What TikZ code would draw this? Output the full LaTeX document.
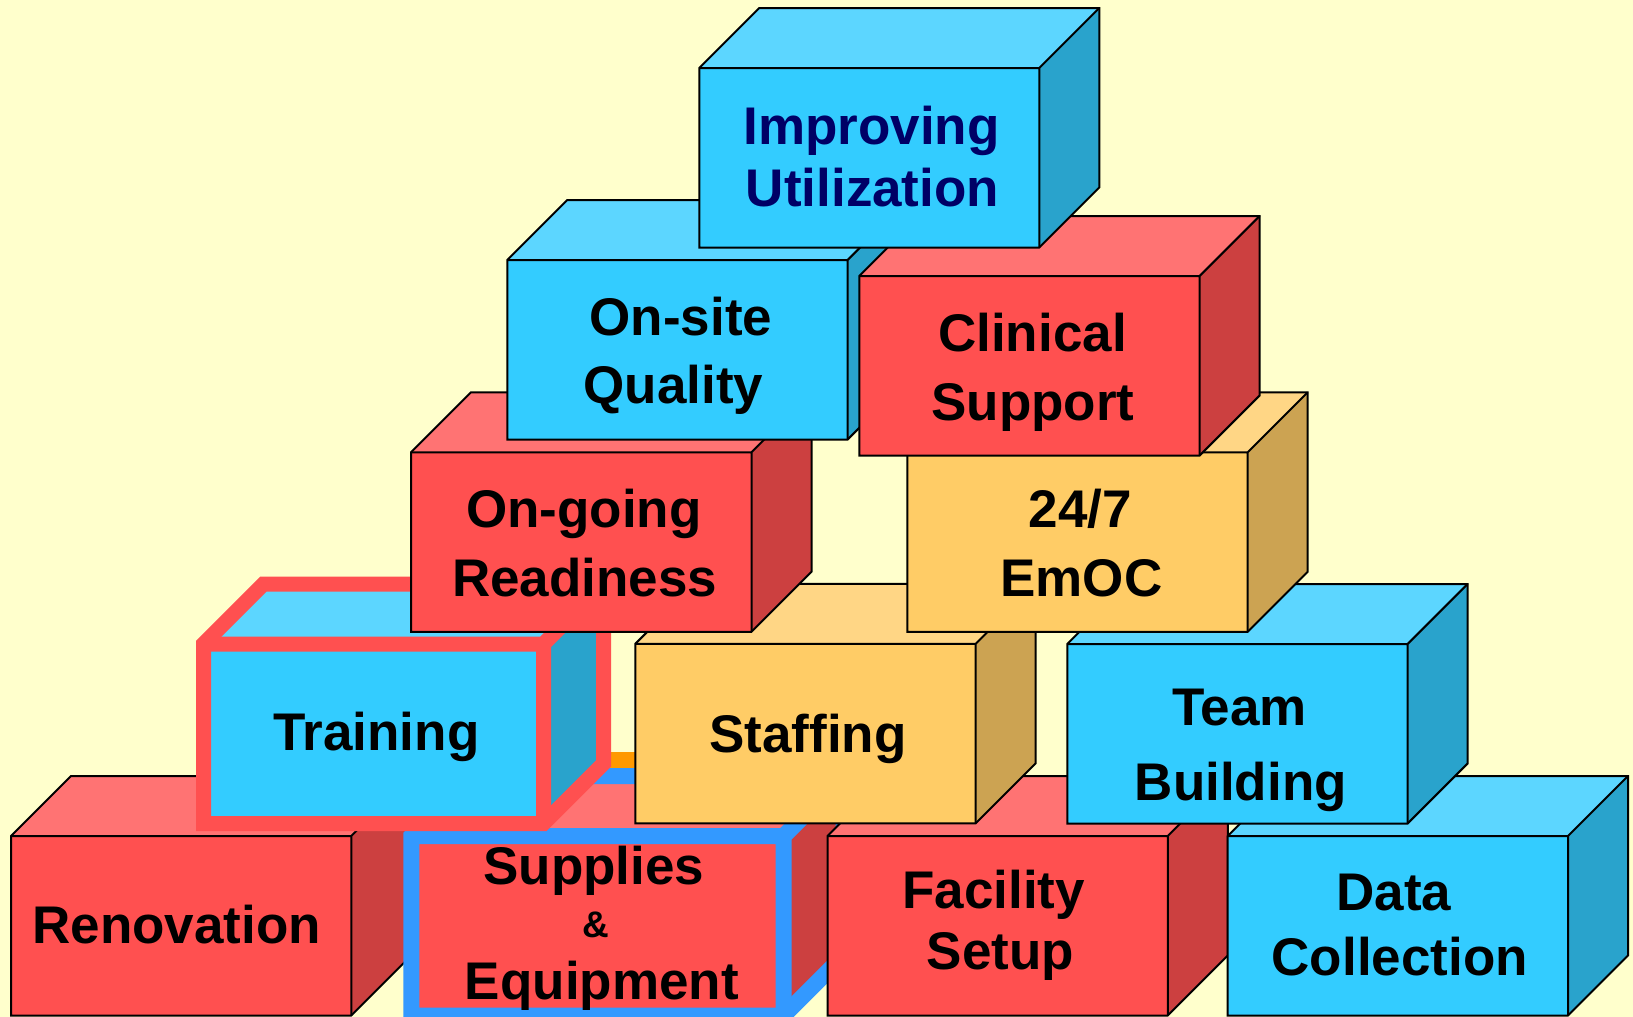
\documentclass[tikz,border=0pt]{standalone}
\usepackage{fontspec}
\setmainfont{Liberation Sans}
\definecolor{bg}{HTML}{FFFFCC}
\definecolor{bluefront}{HTML}{33CCFF}
\definecolor{bluetop}{HTML}{5CD6FF}
\definecolor{blueside}{HTML}{29A3CC}
\definecolor{redfront}{HTML}{FF5050}
\definecolor{redtop}{HTML}{FF7373}
\definecolor{redside}{HTML}{CC4040}
\definecolor{orangefront}{HTML}{FFCC66}
\definecolor{orangetop}{HTML}{FFD685}
\definecolor{orangeside}{HTML}{CCA352}
\definecolor{navy}{HTML}{000066}
\definecolor{trainred}{HTML}{FF5050}
\definecolor{suppblue}{HTML}{3399FF}
\definecolor{stripor}{HTML}{FF9900}
\newcommand{\boxcube}[5]{%
  \fill[#4top] (#1,#2) -- (#1+60,#2-60) -- (#1+#3+60,#2-60) -- (#1+#3,#2) -- cycle;
  \fill[#4side] (#1+#3,#2) -- (#1+#3+60,#2-60) -- (#1+#3+60,#2+119.5) -- (#1+#3,#2+179.5) -- cycle;
  \fill[#4front] (#1,#2) rectangle (#1+#3,#2+179.5);
  \draw[#5] (#1,#2+179.5) -- (#1,#2) -- (#1+60,#2-60) -- (#1+#3+60,#2-60) -- (#1+#3+60,#2+119.5) -- (#1+#3,#2+179.5) -- cycle;
  \draw[#5] (#1,#2) -- (#1+#3,#2) -- (#1+#3,#2+179.5) (#1+#3,#2) -- (#1+#3+60,#2-60);
}
\begin{document}
\begin{tikzpicture}[x=1pt,y=-1pt,
  lbl/.style={inner sep=0pt, anchor=base, text=black, font=\bfseries\fontsize{53}{60}\selectfont},
  thinedge/.style={draw=black, line width=2pt, line join=miter},
  trainedge/.style={draw=trainred, line width=15pt, line join=miter},
  suppedge/.style={draw=suppblue, line width=16pt, line join=miter}]
\fill[bg] (0,0) rectangle (1633,1017);
\useasboundingbox (0,0) rectangle (1633,1017);
% orange strip seen behind
\fill[stripor] (600,752.3) rectangle (640,776);
% row 1
\boxcube{11}{836}{340.3}{red}{thinedge}
\boxcube{411.3}{836}{372.4}{red}{suppedge}
\boxcube{827.5}{836}{340.3}{red}{thinedge}
\boxcube{1227.7}{836}{340.3}{blue}{thinedge}
% row 2
\boxcube{203.5}{644}{340}{blue}{trainedge}
\boxcube{635.3}{643.8}{340.3}{orange}{thinedge}
\boxcube{1067.3}{644}{340.3}{blue}{thinedge}
% row 3
\boxcube{411}{452.3}{340.5}{red}{thinedge}
\boxcube{907.3}{452.3}{340.3}{orange}{thinedge}
% row 4
\boxcube{507.3}{260}{340.3}{blue}{thinedge}
\boxcube{859.3}{276}{340.3}{red}{thinedge}
% row 5
\boxcube{699.3}{68}{340}{blue}{thinedge}
% labels
\node[lbl, text=navy] (imp1) at (871.5,144) {Improving};
\node[lbl, text=navy] (imp2) at (872.5,206.7) {Utilization};
\node[lbl] (ons1) at (681,335.7) {On-site};
\node[lbl] (ons2) at (673.3,403.3) {Quality};
\node[lbl] (cli1) at (1032.5,351.7) {Clinical};
\node[lbl] (cli2) at (1033,420.7) {Support};
\node[lbl] (rea1) at (583.8,527.3) {On-going};
\node[lbl] (rea2) at (584.7,596.7) {Readiness};
\node[lbl] (emo1) at (1080.3,527.3) {24/7};
\node[lbl] (emo2) at (1081.3,596.7) {EmOC};
\node[lbl] (tra) at (376.3,750) {Training};
\node[lbl] (sta) at (808,752) {Staffing};
\node[lbl] (tea1) at (1239.5,725.7) {Team};
\node[lbl] (tea2) at (1240.8,800.7) {Building};
\node[lbl] (ren) at (176.7,943.3) {Renovation};
\node[lbl] (sup1) at (593.8,884) {Supplies};
\node[lbl, font=\bfseries\fontsize{37}{40}\selectfont] (sup2) at (596,937) {\&};
\node[lbl] (sup3) at (601.8,999.3) {Equipment};
\node[lbl] (fac1) at (993.7,908.3) {Facility};
\node[lbl] (fac2) at (1000.3,969.3) {Setup};
\node[lbl] (dat1) at (1393.7,910.7) {Data};
\node[lbl] (dat2) at (1399.7,975) {Collection};
\end{tikzpicture}
\end{document}
